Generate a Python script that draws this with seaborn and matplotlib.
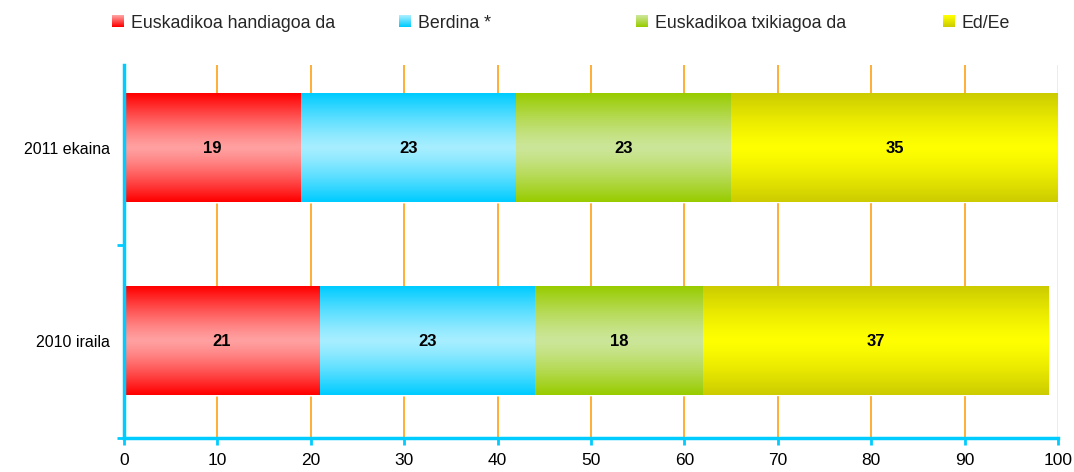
import numpy as np
import pandas as pd
import matplotlib
matplotlib.use('Agg')
import matplotlib.pyplot as plt
import seaborn as sns
from matplotlib.colors import to_rgb
from matplotlib.patches import Patch, Rectangle
from matplotlib.legend_handler import HandlerBase

categories = ['2011 ekaina', '2010 iraila']
series = ['Euskadikoa handiagoa da', 'Berdina *', 'Euskadikoa txikiagoa da', 'Ed/Ee']
val_handiagoa = [19, 21]
val_berdina = [23, 23]
val_txikiagoa = [23, 18]
val_eded = [35, 37]
xticks = [0, 10, 20, 30, 40, 50, 60, 70, 80, 90, 100]

edge_colors = ['#FF0000', '#00CCFF', '#99CC00', '#CCCC00']
mid_colors = ['#FFA0A0', '#A6EEFF', '#CCE699', '#FFFF00']

sns.set_theme(style='white')
plt.rcParams['font.family'] = ['Liberation Sans', 'DejaVu Sans']

df = pd.DataFrame({'cat': categories,
                   series[0]: val_handiagoa, series[1]: val_berdina,
                   series[2]: val_txikiagoa, series[3]: val_eded})
cum = df[series].cumsum(axis=1)

fig = plt.figure(figsize=(10.74, 4.72), dpi=100)
W, H = 1074, 472
ax = fig.add_axes([124 / W, (H - 438) / H, (1058 - 124) / W, (438 - 65) / H])

bar_w = 0.56
for i in reversed(range(len(series))):
    s = series[i]
    sns.barplot(x=cum[s], y=df['cat'], orient='h', color=edge_colors[i],
                width=bar_w, ax=ax, saturation=1, zorder=2)


def blend(edge, mid, f):
    e = np.array(to_rgb(edge)); m = np.array(to_rgb(mid))
    return m * (1 - f) + e * f


def grad_img(edge, mid, n=64):
    t = np.linspace(-1, 1, n)
    f = np.abs(t) ** 1.3
    return np.stack([blend(edge, mid, fi) for fi in f])[:, None, :]


for i, s in enumerate(series):
    left = cum[s] - df[s]
    for j, cat in enumerate(categories):
        yc = j
        x0, x1 = left.iloc[j], cum[s].iloc[j]
        ax.imshow(grad_img(edge_colors[i], mid_colors[i]), aspect='auto',
                  extent=[x0, x1, yc + bar_w / 2, yc - bar_w / 2],
                  interpolation='bilinear', zorder=3)
        ax.text((x0 + x1) / 2, yc, f'{df[s].iloc[j]}', ha='center', va='center',
                fontsize=12, fontweight='bold', color='black', zorder=4)

ax.set_xlim(0, 100)
ax.set_ylim(1.5, -0.43)
ax.set_xticks(xticks)
ax.set_xticklabels([str(v) for v in xticks])
ax.set_yticks([0, 1])
ax.set_yticklabels(categories)
ax.set_yticks([0.5, 1.5], minor=True)
ax.set_xlabel('')
ax.set_ylabel('')

ax.set_axisbelow(True)
ax.xaxis.grid(True, color='#FF9900', lw=1.1)
gl = ax.get_xgridlines()
gl[-1].set_color('#FFE3BF')
ax.yaxis.grid(False)

for sp in ['top', 'right']:
    ax.spines[sp].set_visible(False)
for sp in ['left', 'bottom']:
    ax.spines[sp].set_color('#00CCFF')
    ax.spines[sp].set_linewidth(2.5)
    ax.spines[sp].set_zorder(5)

ax.tick_params(axis='x', direction='out', length=5, width=2, color='#00CCFF',
               labelsize=12.5, labelcolor='black', pad=6, bottom=True)
ax.tick_params(axis='y', which='major', length=0, labelsize=11.5, labelcolor='black', pad=10)
ax.tick_params(axis='y', which='minor', direction='out', length=5, width=2,
               color='#00CCFF', left=True)


class GradHandler(HandlerBase):
    def __init__(self, edge, mid, n=12):
        super().__init__()
        self.edge, self.mid, self.n = edge, mid, n

    def create_artists(self, legend, orig_handle, xdescent, ydescent, width,
                       height, fontsize, trans):
        arts = []
        side = min(width, height)
        x0 = -xdescent
        y0 = -ydescent + (height - side) / 2
        for k in range(self.n):
            f = k / (self.n - 1)  # bottom -> top : dark -> light
            col = blend(self.edge, self.mid, 1 - f)
            r = Rectangle((x0, y0 + side * k / self.n), side, side / self.n + 0.3,
                          facecolor=col, edgecolor='none', transform=trans)
            arts.append(r)
        return arts


leg_x = [112, 399, 636, 943]
for i, s in enumerate(series):
    h = Patch(facecolor=mid_colors[i])
    fig.legend(handles=[h], labels=[s], loc='center left',
               bbox_to_anchor=(leg_x[i] / W, 1 - 23 / H), frameon=False,
               borderpad=0, borderaxespad=0, handlelength=0.68, handleheight=0.68,
               handletextpad=0.38, fontsize=12.8,
               handler_map={Patch: GradHandler(edge_colors[i], mid_colors[i])})

fig.savefig('out.png', dpi=100)
